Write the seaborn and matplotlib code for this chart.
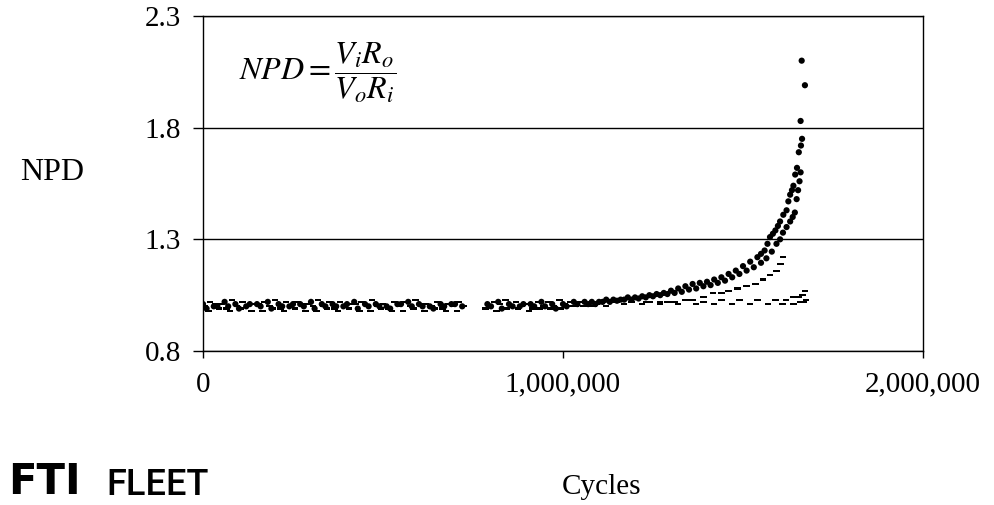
import numpy as np
import pandas as pd
import matplotlib
matplotlib.use("Agg")
import matplotlib.pyplot as plt
import seaborn as sns
from matplotlib.ticker import FuncFormatter, FixedLocator

# ---------------- data (cycles in thousands, NPD values) ----------------
a_cyc = [0, 30, 60, 90, 120, 150, 180, 210, 240, 270, 300, 330, 360, 390, 420, 450, 480, 510,
         540, 570, 600, 630, 660, 690, 720,
         790, 820, 850, 880, 910, 940, 970, 1000, 1030, 1060, 1080,
         1100, 1120, 1140, 1160, 1180, 1200, 1220, 1240, 1260, 1280, 1300, 1320, 1340, 1360,
         1380, 1400, 1420, 1440, 1460, 1480, 1500, 1520, 1540, 1550, 1560, 1568, 1575, 1583,
         1590, 1597, 1603, 1612, 1621, 1626, 1631, 1636, 1640, 1645, 1650, 1655, 1661, 1664,
         1660, 1672, 1663]
a_npd = [1.01, 1.00, 1.02, 1.01, 1.00, 1.01, 1.02, 1.01, 1.00, 1.01, 1.02, 1.01, 1.01, 1.00,
         1.02, 1.01, 1.01, 1.00, 1.01, 1.02, 1.01, 1.00, 1.01, 1.01, 1.00,
         1.01, 1.02, 1.01, 1.00, 1.01, 1.02, 1.01, 1.01, 1.02, 1.02, 1.02,
         1.02, 1.03, 1.03, 1.03, 1.04, 1.04, 1.045, 1.05, 1.055, 1.06, 1.07, 1.08, 1.09, 1.10,
         1.105, 1.11, 1.12, 1.13, 1.145, 1.16, 1.18, 1.20, 1.22, 1.235, 1.25, 1.28, 1.31, 1.325,
         1.34, 1.36, 1.38, 1.41, 1.43, 1.47, 1.50, 1.52, 1.54, 1.59, 1.62, 1.69, 1.72, 1.75,
         1.83, 1.99, 2.10]

b_cyc = [10, 40, 70, 100, 130, 160, 190, 220, 250, 280, 310, 340, 370, 400, 430, 460, 490, 520,
         550, 580, 610, 640, 670, 700,
         800, 830, 860, 890, 920, 950, 980, 1010, 1040, 1070, 1090,
         1110, 1130, 1150, 1170, 1190, 1210, 1230, 1250, 1270, 1290, 1310, 1330, 1350, 1370,
         1390, 1410, 1430, 1450, 1470, 1490, 1510, 1530, 1550, 1565, 1580, 1593, 1603, 1611,
         1621, 1631, 1638, 1644, 1649, 1653, 1657, 1660]
b_npd = [0.99, 1.00, 1.00, 0.99, 1.01, 1.00, 0.99, 1.00, 1.01, 1.00, 0.99, 1.00, 1.00, 1.01,
         0.99, 1.00, 1.00, 0.99, 1.01, 1.00, 1.00, 0.99, 1.00, 1.01,
         1.00, 0.99, 1.00, 1.01, 1.00, 1.00, 0.99, 1.00, 1.01, 1.01, 1.01,
         1.02, 1.02, 1.025, 1.03, 1.03, 1.035, 1.04, 1.045, 1.05, 1.055, 1.06, 1.065, 1.075, 1.08,
         1.09, 1.095, 1.105, 1.115, 1.13, 1.145, 1.16, 1.175, 1.195, 1.215, 1.245, 1.28, 1.30, 1.33,
         1.355, 1.38, 1.40, 1.42, 1.48, 1.52, 1.56, 1.60]

c_cyc = [20, 50, 80, 110, 140, 170, 200, 230, 260, 290, 320, 350, 380, 410, 440, 470, 500, 530,
         560, 590, 620, 650, 680, 710,
         810, 840, 870, 900, 930, 960, 990, 1020, 1050, 1080,
         1110, 1150, 1190, 1230, 1270, 1310, 1360, 1390, 1417, 1440, 1460, 1485, 1510, 1535,
         1556, 1575, 1593, 1604, 1611]
c_npd = [1.02, 1.01, 1.03, 1.02, 1.01, 1.02, 1.03, 1.02, 1.02, 1.01, 1.03, 1.02, 1.02, 1.01,
         1.02, 1.03, 1.01, 1.02, 1.02, 1.03, 1.01, 1.02, 1.01, 1.02,
         1.02, 1.03, 1.02, 1.01, 1.02, 1.02, 1.03, 1.02, 1.02, 1.02,
         1.02, 1.02, 1.02, 1.02, 1.02, 1.02, 1.03, 1.04, 1.06, 1.06, 1.07, 1.08, 1.09, 1.10,
         1.12, 1.14, 1.16, 1.19, 1.22]

d_cyc = [5, 35, 65, 95, 125, 155, 185, 215, 245, 275, 305, 335, 365, 395, 425, 455, 485, 515,
         545, 575, 605, 635, 665, 695, 725,
         795, 825, 855, 885, 915, 945, 975, 1005, 1035, 1065, 1095,
         1140, 1190, 1240, 1290, 1340, 1390, 1440, 1490, 1540, 1590, 1620, 1640, 1655, 1665, 1672]
d_npd = [1.00, 1.01, 0.99, 1.00, 1.00, 1.01, 1.00, 0.99, 1.00, 1.01, 1.00, 1.00, 0.99, 1.00,
         1.01, 1.00, 1.00, 0.99, 1.00, 1.00, 1.01, 1.00, 0.99, 1.00, 1.00,
         1.00, 1.01, 1.00, 1.00, 0.99, 1.00, 1.00, 1.01, 1.00, 1.00, 1.01,
         1.02, 1.02, 1.02, 1.02, 1.03, 1.02, 1.03, 1.03, 1.03, 1.03, 1.03, 1.04, 1.04, 1.05, 1.07]

e_cyc = [15, 45, 75, 105, 135, 165, 195, 225, 255, 285, 315, 345, 375, 405, 435, 465, 495, 525,
         555, 585, 615, 645, 675, 705,
         785, 815, 845, 875, 905, 935, 965, 995, 1025, 1055, 1085,
         1120, 1170, 1220, 1270, 1320, 1370, 1420, 1470, 1520, 1570, 1610, 1640, 1660, 1670, 1675]
e_npd = [0.98, 0.99, 0.98, 0.99, 0.98, 0.98, 0.99, 0.98, 0.99, 0.98, 0.98, 0.99, 0.98, 0.99,
         0.98, 0.98, 0.99, 0.98, 0.98, 0.99, 0.98, 0.99, 0.98, 0.98,
         0.99, 0.98, 0.99, 0.99, 0.98, 0.99, 0.99, 0.99, 1.00, 1.00, 1.00,
         1.00, 1.01, 1.01, 1.01, 1.01, 1.01, 1.01, 1.01, 1.01, 1.01, 1.01, 1.01, 1.02, 1.02, 1.03]

y_ticks = [0.8, 1.3, 1.8, 2.3]
y_tick_labels = ["0.8", "1.3", "1.8", "2.3"]
x_ticks = [0, 1000000, 2000000]

series = [("A", a_cyc, a_npd), ("B", b_cyc, b_npd), ("C", c_cyc, c_npd),
          ("D", d_cyc, d_npd), ("E", e_cyc, e_npd)]
frames = [pd.DataFrame({"Cycles": np.array(c) * 1000, "NPD": v, "Specimen": n})
          for n, c, v in series]
df = pd.concat(frames, ignore_index=True)

# ---------------- style ----------------
sns.set_theme(style="white")
plt.rcParams['font.family'] = ['Liberation Serif', 'DejaVu Serif']
plt.rcParams['mathtext.fontset'] = 'stix'

W, H = 995, 505
fig = plt.figure(figsize=(W / 100, H / 100), dpi=100)
ax = fig.add_axes([203 / W, 1 - 351 / H, 720 / W, 335 / H])

dash = [(-1, -0.35), (1, -0.35), (1, 0.35), (-1, 0.35)]
sns.scatterplot(data=df, x="Cycles", y="NPD", hue="Specimen", style="Specimen",
                palette=["black"] * 5, markers=["o", "o", dash, dash, dash],
                s=20, linewidth=0, legend=False, ax=ax, zorder=3)

ax.set_xlim(0, 2000000)
ax.set_ylim(0.8, 2.3)
ax.xaxis.set_major_locator(FixedLocator(x_ticks))
ax.xaxis.set_major_formatter(FuncFormatter(lambda v, p: f"{int(v):,}"))
ax.set_yticks(y_ticks)
ax.set_yticklabels(y_tick_labels)
ax.set_xlabel("")
ax.set_ylabel("")

ax.yaxis.grid(True, color="black", linewidth=1.0)
ax.xaxis.grid(False)
for sp in ax.spines.values():
    sp.set_visible(True)
    sp.set_color("black")
    sp.set_linewidth(1.0)

ax.tick_params(axis="y", direction="out", length=7, width=1, color="black",
               labelsize=21, pad=9, left=True)
ax.tick_params(axis="x", direction="out", length=5, width=1, color="black",
               labelsize=21, pad=10, bottom=True)
for lab in ax.get_xticklabels() + ax.get_yticklabels():
    lab.set_color("black")

# formula
ax.text(0.05, 0.83, r"$NPD=\dfrac{V_iR_o}{V_oR_i}$", transform=ax.transAxes,
        fontsize=23, color="black", ha="left", va="center", zorder=5,
        bbox=dict(facecolor="white", edgecolor="none", pad=4))

# axis titles
fig.text(52 / W, 1 - 172 / H, "NPD", fontsize=23, ha="center", va="center", color="black")
fig.text(602 / W, 1 - 487 / H, "Cycles", fontsize=21, ha="center", va="center", color="black")

# logo
fig.text(8 / W, 2 / H, "FTI", fontsize=30, fontweight="heavy", family="DejaVu Sans",
         ha="left", va="bottom", color="black")
fig.text(106 / W, 2 / H, "FLEET", fontsize=26, fontweight="medium", family="Roboto",
         ha="left", va="bottom", color="black")

fig.savefig("out.png", dpi=100, facecolor="white")
